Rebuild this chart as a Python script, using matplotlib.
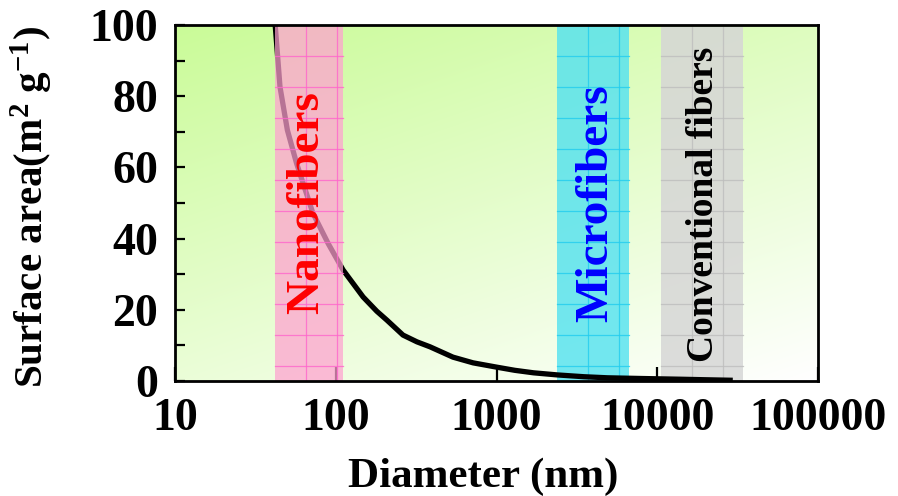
import numpy as np
import matplotlib
matplotlib.use("Agg")
import matplotlib.pyplot as plt
from matplotlib.ticker import MultipleLocator, FixedLocator, NullLocator

# ---- data ----
diameter_nm = [42, 45, 50, 57, 72, 90, 111, 148, 180, 208, 262, 320, 386, 536,
               715, 1000, 1300, 1700, 2400, 3500, 4900, 8000, 13900, 20000, 29500]
surface_area = [100, 82.6, 70.5, 61.2, 47.2, 38.5, 31.2, 23.6, 19.6, 17.1, 12.9,
                11.0, 9.6, 6.7, 5.1, 3.9, 3.0, 2.3, 1.7, 1.2, 0.9, 0.7, 0.5,
                0.35, 0.2]

band_labels = ["Nanofibers", "Microfibers", "Conventional fibers"]
band_ranges = [(42, 111), (2380, 6670), (10540, 34100)]
band_colors = ["#ffa0d0", "#55e2f0", "#d6d6d6"]
band_alpha = [0.72, 0.82, 0.85]
band_grid_colors = ["#ff66cc", "#22ccee", "#bdbdbd"]
band_text_colors = ["#ff0000", "#0000ff", "#000000"]
band_text_x = [66, 4200, 19400]
band_text_y = [50, 50, 49.7]
band_text_size = [34, 34, 27]
band_top = [1.0, 1.0, 0.994]
band_zorder = [3, 1.5, 1.5]

x_ticks = [10, 100, 1000, 10000, 100000]
x_tick_labels = ["10", "100", "1000", "10000", "100000"]
y_major = [0, 20, 40, 60, 80, 100]

plt.rcParams['font.family'] = ['Liberation Serif', 'DejaVu Serif']
plt.rcParams['font.weight'] = 'bold'
plt.rcParams['mathtext.fontset'] = 'custom'
plt.rcParams['mathtext.rm'] = 'Liberation Serif:bold'
plt.rcParams['mathtext.bf'] = 'Liberation Serif:bold'
plt.rcParams['mathtext.it'] = 'Liberation Serif:bold:italic'
plt.rcParams['mathtext.default'] = 'bf'

W, H = 898, 496
fig = plt.figure(figsize=(W / 100, H / 100), dpi=100)
L, R, B, T = 175, 818, 381, 25
ax = fig.add_axes([L / W, 1 - B / H, (R - L) / W, (B - T) / H])

ax.set_xscale('log')
ax.set_xlim(10, 100000)
ax.set_ylim(0, 100)

# gradient background (green top-left -> white bottom-right)
nx, ny = 200, 120
xf = np.linspace(0, 1, nx)[None, :]
yf = np.linspace(1, 0, ny)[:, None]  # row 0 is top
w = np.clip(0.38 * xf + 0.62 * (1 - yf), 0, 1)
green = np.array([202, 251, 152]) / 255.0
white = np.array([1.0, 1.0, 1.0])
img = green[None, None, :] * (1 - w[..., None]) + white[None, None, :] * w[..., None]
ax.imshow(img, extent=[0, 1, 0, 1], transform=ax.transAxes, aspect='auto',
          zorder=0, interpolation='bilinear')

# curve
ax.plot(diameter_nm, surface_area, color='black', lw=3.8, zorder=2,
        solid_capstyle='butt')

# bands with grid
dec_px = (R - L) / 4.0
step_dec = 31.0 / dec_px
step_y = 31.0 / (B - T) * 100
for (lo, hi), c, a, gc, top, z in zip(band_ranges, band_colors, band_alpha,
                                      band_grid_colors, band_top, band_zorder):
    ax.axvspan(lo, hi, ymin=0, ymax=top, color=c, alpha=a, lw=0, zorder=z)
    k = 1
    while np.log10(lo) + k * step_dec < np.log10(hi) - 0.005:
        xv = 10 ** (np.log10(lo) + k * step_dec)
        ax.plot([xv, xv], [0, 100 * top], color=gc, lw=0.9, alpha=0.8, zorder=z + 0.1)
        k += 1
    yv = 100 - step_y
    while yv > 0:
        ax.plot([lo, hi], [yv, yv], color=gc, lw=0.9, alpha=0.8, zorder=z + 0.1)
        yv -= step_y

for lab, tx, ty, tc, ts in zip(band_labels, band_text_x, band_text_y,
                               band_text_colors, band_text_size):
    ax.text(tx, ty, lab, rotation=90, ha='center', va='center', color=tc,
            fontsize=ts, fontweight='bold', zorder=4)

# ticks
ax.xaxis.set_major_locator(FixedLocator(x_ticks))
ax.set_xticklabels(x_tick_labels)
ax.xaxis.set_minor_locator(NullLocator())
ax.yaxis.set_major_locator(FixedLocator(y_major))
ax.yaxis.set_minor_locator(MultipleLocator(10))
ax.tick_params(axis='x', which='major', direction='in', length=10, width=1.6,
               labelsize=33, pad=12)
ax.tick_params(axis='y', which='both', direction='in', length=7, width=1.6,
               labelsize=33, pad=12)
for lbl in ax.get_xticklabels() + ax.get_yticklabels():
    lbl.set_fontweight('bold')

for s in ax.spines.values():
    s.set_linewidth(2.0)
    s.set_color('black')
    s.set_zorder(5)

ax.set_xlabel('Diameter (nm)', fontsize=31, fontweight='bold')
ax.xaxis.set_label_coords((483 - L) / (R - L), (B - 458) / (B - T))
ax.set_ylabel('Surface area(m$^2$ g$^{-1}$)', fontsize=29.5, fontweight='bold')
ax.yaxis.set_label_coords((55 - L) / (R - L), (B - 207) / (B - T))

fig.savefig('out.png', dpi=100)
